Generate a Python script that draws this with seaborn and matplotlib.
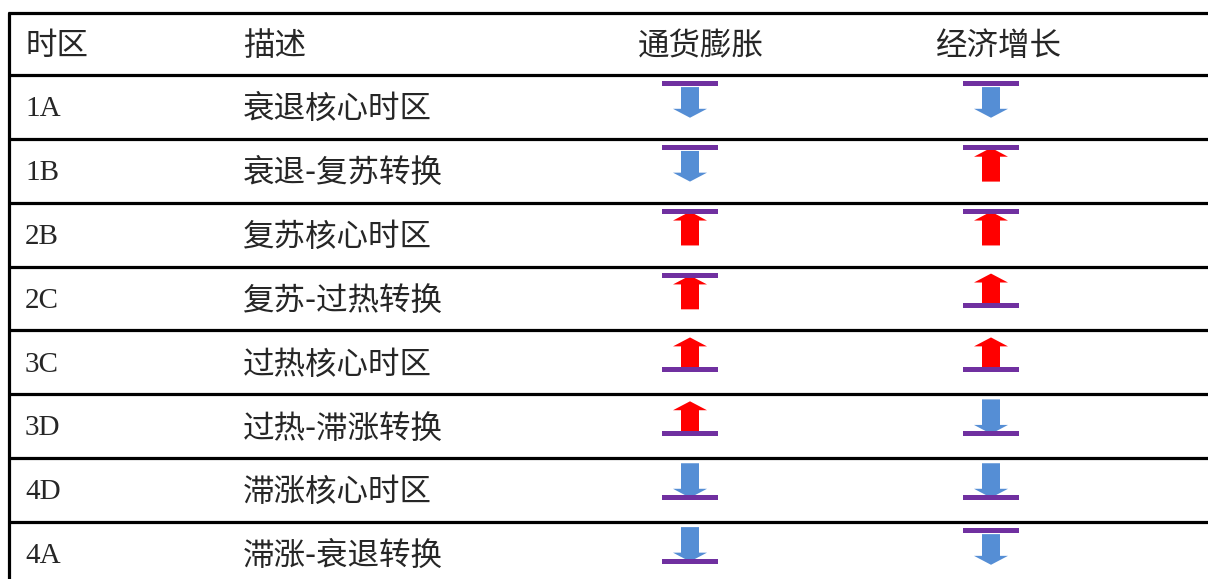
import matplotlib.pyplot as plt
import seaborn as sns
from matplotlib.patches import Polygon, Rectangle

headers = ['时区', '描述', '通货膨胀', '经济增长']
zones = ['1A', '1B', '2B', '2C', '3C', '3D', '4D', '4A']
descs = ['衰退核心时区', '衰退-复苏转换', '复苏核心时区', '复苏-过热转换',
         '过热核心时区', '过热-滞涨转换', '滞涨核心时区', '滞涨-衰退转换']
# arrow direction and where the bar sits
infl_dir = ['down', 'down', 'up', 'up', 'up', 'up', 'down', 'down']
infl_bar = ['top', 'top', 'top', 'top', 'bottom', 'bottom', 'bottom', 'bottom']
growth_dir = ['down', 'up', 'up', 'up', 'up', 'down', 'down', 'down']
growth_bar = ['top', 'top', 'top', 'bottom', 'bottom', 'bottom', 'bottom', 'top']

sns.set_theme(style='white')
plt.rcParams['font.family'] = ['Noto Sans CJK SC', 'DejaVu Sans']

BLUE = '#558ED5'
RED = '#FF0000'
PURPLE = '#7030A0'

fig = plt.figure(figsize=(12.08, 5.79), dpi=100)
ax = fig.add_axes([0, 0, 1, 1])
ax.set_xlim(0, 1208)
ax.set_ylim(7.8926, -1.1736)
ax.axis('off')

HEAD_TOP = -0.97

# table rules
rules = [HEAD_TOP] + list(range(len(zones)))
for y in rules:
    ax.plot([8, 1208], [y, y], color='black', lw=2.3, solid_capstyle='butt')
ax.plot([9, 9], [HEAD_TOP, 7.9], color='black', lw=2.3)

col_x = [25, 243, 701, 999]
sym_x = [690, 991]

fs = 22.7
dy = 0.035  # nudge text down a touch
hy = HEAD_TOP / 2 + dy
ax.text(col_x[0], hy, headers[0], fontsize=fs, va='center', ha='left')
ax.text(col_x[1], hy, headers[1], fontsize=fs, va='center', ha='left')
ax.text(col_x[2], hy, headers[2], fontsize=fs, va='center', ha='center')
ax.text(col_x[3], hy, headers[3], fontsize=fs, va='center', ha='center')

SW, HW, HL = 18, 34, 0.14
BAR_W, BAR_H = 56, 0.08


def arrow(cx, y_from, y_to, color):
    # y_from: tail end, y_to: tip
    s = 1 if y_to > y_from else -1
    yh = y_to - s * HL
    pts = [(cx - SW / 2, y_from), (cx + SW / 2, y_from), (cx + SW / 2, yh),
           (cx + HW / 2, yh), (cx, y_to), (cx - HW / 2, yh), (cx - SW / 2, yh)]
    ax.add_patch(Polygon(pts, closed=True, color=color, lw=0, zorder=2))


def symbol(cx, row, d, bar):
    if bar == 'top':
        b0 = row + 0.10
        if d == 'down':
            arrow(cx, row + 0.19, row + 0.67, BLUE)
        else:
            arrow(cx, row + 0.67, row + 0.14, RED)
    else:
        b0 = row + 0.575
        if d == 'down':
            arrow(cx, row + 0.08, row + 0.62, BLUE)
        else:
            arrow(cx, row + 0.59, row + 0.11, RED)
    ax.add_patch(Rectangle((cx - BAR_W / 2, b0), BAR_W, BAR_H,
                           color=PURPLE, lw=0, zorder=3))


for i in range(len(zones)):
    ax.text(col_x[0], i + 0.5 + dy, zones[i], fontsize=21, va='center', ha='left',
            family=['Liberation Serif', 'Noto Sans CJK SC'])
    ax.text(col_x[1], i + 0.5 + dy, descs[i], fontsize=fs, va='center', ha='left')
    symbol(sym_x[0], i, infl_dir[i], infl_bar[i])
    symbol(sym_x[1], i, growth_dir[i], growth_bar[i])

plt.savefig('out.png', dpi=100, facecolor='white')
plt.close()
